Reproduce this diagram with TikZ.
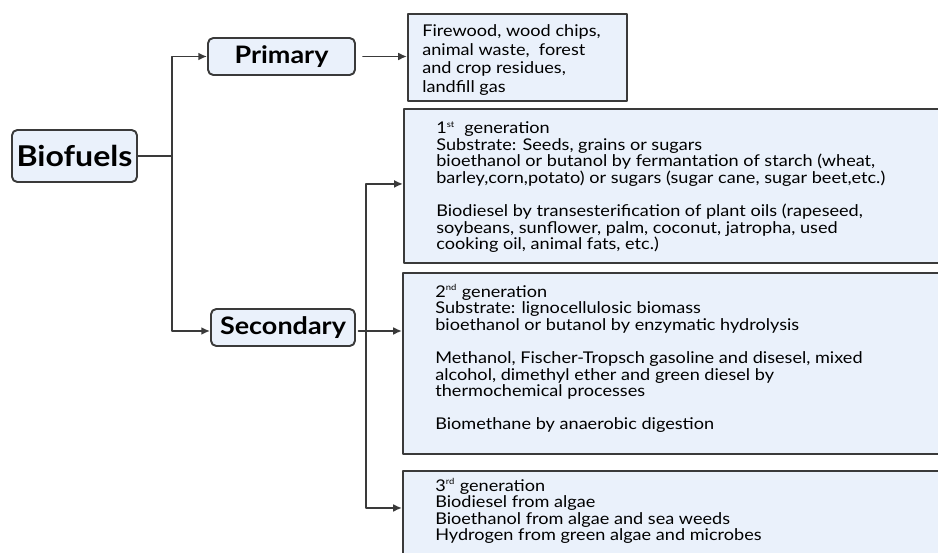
\documentclass[tikz,border=0pt]{standalone}
\usepackage{fontspec}
\setmainfont{Lato}[FakeStretch=1.12]
\usetikzlibrary{positioning}
\usetikzlibrary{arrows.meta}
\definecolor{boxfill}{HTML}{EAF1FB}
\definecolor{boxline}{HTML}{3A3A3A}
\newcommand{\ordsup}[1]{\textsuperscript{\fontsize{4.8}{5}\selectfont #1}}
\tikzset{lvl/.style = {draw=boxline, fill=boxfill, rounded corners=3pt,
                       line width=1.1pt, font=\bfseries, inner sep=0pt}}
\tikzset{genbox/.style = {draw=boxline, fill=boxfill, line width=1.1pt,
                          anchor=north west, inner sep=0pt}}
\tikzset{gentext/.style = {anchor=base west, align=left, inner sep=0pt,
                           font=\fontsize{9.2}{9.45}\selectfont}}
\tikzset{link/.style = {draw=boxline, line width=1pt,
                        -{Latex[length=5pt,width=4.5pt]}}}

\begin{document}
\begin{tikzpicture}[x=0.02cm, y=-0.02cm, line cap=round, line join=round]
  \useasboundingbox (0,0) rectangle (938,553);
  \clip (0,0) rectangle (938,553);

  % left column
  \node[lvl, minimum width=2.5cm, minimum height=1.04cm,
        font=\bfseries\fontsize{16.3}{19}\selectfont] (bio) at (74.5,156) {Biofuels};
  \node[lvl, minimum width=2.94cm, minimum height=0.74cm,
        font=\bfseries\fontsize{13.7}{15}\selectfont] (prim) at (281.5,56.5) {Primary};
  \node[lvl, minimum width=2.88cm, minimum height=0.74cm,
        font=\bfseries\fontsize{13.7}{15}\selectfont] (sec) at (283,327.5) {Secondary};

  % primary sources
  \node[genbox, minimum width=4.38cm, minimum height=1.74cm] (src) at (407,13) {};
  % (text nodes are anchored on their last baseline)
  \node[gentext, font=\fontsize{9.2}{10.6}\selectfont] (srctxt) at (422,92.5)
    {Firewood, wood chips,\\ animal waste,\ \ forest\\ and crop residues,\\ landfill gas};

  % generations (run off the right edge)
  \node[genbox, minimum width=11.3cm, minimum height=3.08cm] (gen1) at (403,108) {};
  \node[genbox, minimum width=11.3cm, minimum height=3.62cm] (gen2) at (402,272) {};
  \node[genbox, minimum width=11.3cm, minimum height=2.6cm] (gen3) at (402,470) {};

  \node[gentext] (gen1txt) at (436,250)
    {1\ordsup{st}\ \ generation\\
     Substrate: Seeds, grains or sugars\\
     bioethanol or butanol by fermantation of starch (wheat,\\
     barley,corn,potato) or sugars (sugar cane, sugar beet,etc.)\\[9.45pt]
     Biodiesel by transesterification of plant oils (rapeseed,\\
     soybeans, sunflower, palm, coconut, jatropha, used\\
     cooking oil, animal fats, etc.)};
  \node[gentext] (gen2txt) at (435,430)
    {2\ordsup{nd} generation\\
     Substrate: lignocellulosic biomass\\
     bioethanol or butanol by enzymatic hydrolysis\\[9.45pt]
     Methanol, Fischer-Tropsch gasoline and disesel, mixed\\
     alcohol, dimethyl ether and green diesel by\\
     thermochemical processes\\[9.45pt]
     Biomethane by anaerobic digestion};
  \node[gentext] (gen3txt) at (435,541)
    {3\ordsup{rd} generation\\
     Biodiesel from algae\\
     Bioethanol from algae and sea weeds\\
     Hydrogen from green algae and microbes};

  % connectors
  \coordinate (split1) at (172,156);
  \coordinate (split2) at (366,331);
  \draw[link, -] (bio.east) -- (split1);
  \draw[link] (split1) |- (prim.west);
  \draw[link] (split1) |- ([yshift=-0.07cm]sec.west);
  \draw[link, shorten <=0.14cm] (prim.east) -- (src.west |- prim.east);
  \draw[link, shorten <=0.05cm] ([yshift=-0.07cm]sec.east) -- (gen2.west |- split2);
  \draw[link] (split2) |- ([yshift=0.04cm]gen1.west);
  \draw[link] (split2) |- ([yshift=-0.76cm]gen3.north west);
\end{tikzpicture}
\end{document}
